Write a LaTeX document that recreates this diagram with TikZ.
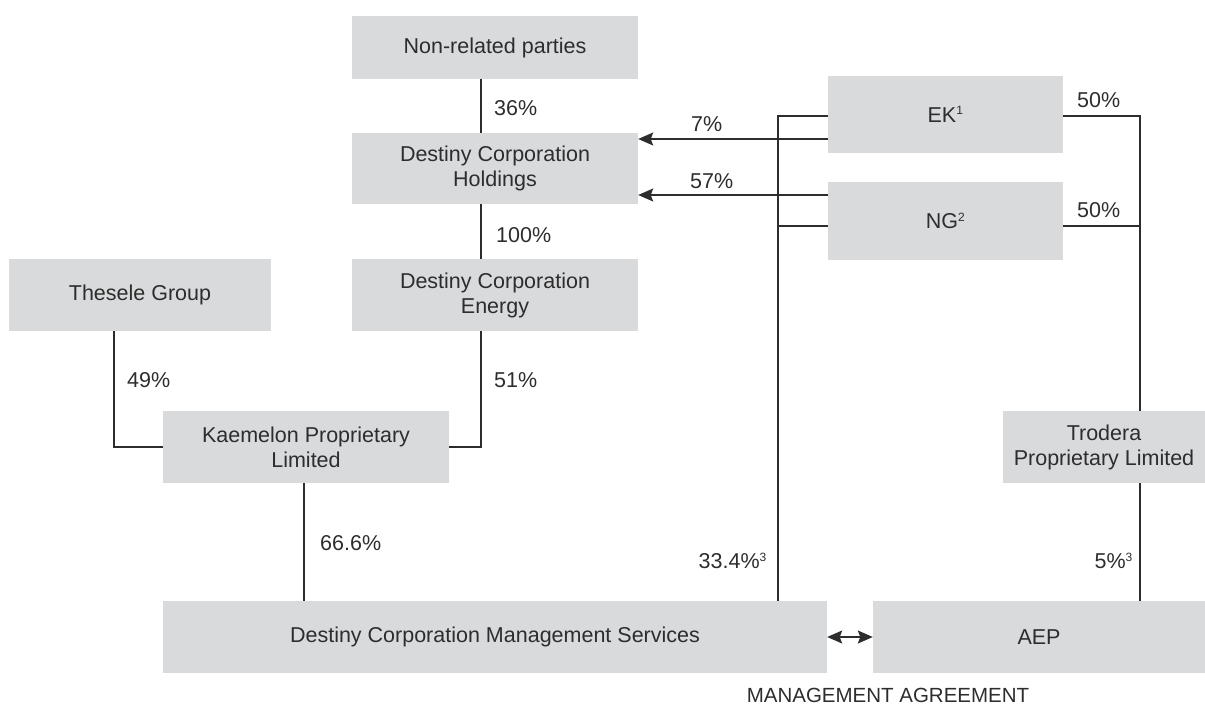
\documentclass[tikz,border=0pt]{standalone}
\usepackage{fontspec}
\setmainfont{Liberation Sans}
\usetikzlibrary{arrows.meta,backgrounds}
\definecolor{boxfill}{RGB}{217,218,220}
\definecolor{txt}{RGB}{45,45,45}
\definecolor{ln}{RGB}{45,45,45}
\tikzset{
  box/.style={rectangle, fill=boxfill, inner sep=0pt, align=center, text=txt,
              font=\fontsize{21.5}{25}\selectfont},
  pct/.style={inner sep=0pt, text=txt, font=\fontsize{21.5}{25}\selectfont},
  conn/.style={draw=ln, line width=1.5pt},
  tip/.style={Stealth[length=15pt,width=13pt,inset=2.5pt]},
  arr/.style={conn, -{Stealth[length=15pt,width=13pt,inset=2.5pt]}},
  darr/.style={conn, {Stealth[length=15pt,width=13pt,inset=2.5pt]}-{Stealth[length=15pt,width=13pt,inset=2.5pt]}}
}
\begin{document}
\begin{tikzpicture}[x=1pt,y=-1pt]
\useasboundingbox (0,0) rectangle (1205,704);
% boxes
\node[box, minimum width=286pt, minimum height=63pt] (np) at (495,47.5) {Non-related parties};
\node[box, minimum width=286pt, minimum height=71pt] (dch) at (495,168.5) {Destiny Corporation\\Holdings};
\node[box, minimum width=286pt, minimum height=72pt] (dce) at (495,295) {Destiny Corporation\\Energy};
\node[box, minimum width=262pt, minimum height=72pt] (ts) at (140,295) {Thesele Group};
\node[box, minimum width=286pt, minimum height=72pt] (kp) at (306,447) {Kaemelon Proprietary\\Limited};
\node[box, minimum width=235pt, minimum height=77pt] (ek) at (945.5,114.5) {EK\textsuperscript{\fontsize{12}{12}\selectfont 1}};
\node[box, minimum width=235pt, minimum height=78pt] (ng) at (945.5,221) {NG\textsuperscript{\fontsize{12}{12}\selectfont 2}};
\node[box, minimum width=202pt, minimum height=72pt] (tr) at (1104,447) {Trodera\\Proprietary Limited};
\node[box, minimum width=664pt, minimum height=72pt] (dcms) at (495,637) {Destiny Corporation Management Services};
\node[box, minimum width=332pt, minimum height=72pt] (aep) at (1039,637) {AEP};
\coordinate (lt) at (778,116);
\coordinate (rt) at (1140,116);
% connectors
\begin{scope}[on background layer]
\draw[conn] ([xshift=-14pt]np.south) -- ([xshift=-14pt]dch.north);
\draw[conn] ([xshift=-14pt]dch.south) -- ([xshift=-14pt]dce.north);
\draw[conn] ([xshift=-26pt]ts.south) |- (kp.west);
\draw[conn] ([xshift=-14pt]dce.south) |- (kp.east);
\draw[conn] ([xshift=-2pt]kp.south) -- ([xshift=-2pt]kp.south |- dcms.north);
\draw[conn] ([yshift=-1.5pt]ek.west) -- (lt) -- (lt |- dcms.north);
\draw[conn] ([yshift=-5pt]ng.west) -- ([yshift=-5pt]ng.west -| lt);
\draw[conn] ([yshift=-1.5pt]ek.east) -- (rt) -- (rt |- aep.north);
\draw[conn] ([yshift=-5pt]ng.east) -- ([yshift=-5pt]ng.east -| rt);
\end{scope}
\draw[arr] ([yshift=-24.5pt]ek.west) -- ([yshift=-24.5pt]ek.west -| dch.east);
\draw[arr] ([yshift=26pt]ng.west) -- ([yshift=26pt]ng.west -| dch.east);
\draw[darr] (dcms.east) -- (aep.west);
% labels
\node[pct, anchor=west] (l36) at (494,108) {36\%};
\node[pct, anchor=west] (l100) at (496,235) {100\%};
\node[pct, anchor=west] (l49) at (127,380) {49\%};
\node[pct, anchor=west] (l51) at (494,380) {51\%};
\node[pct, anchor=west] (l666) at (320,543) {66.6\%};
\node[pct, anchor=west] (l7) at (691,124) {7\%};
\node[pct, anchor=west] (l57) at (690,181.5) {57\%};
\node[pct, anchor=west] (l50a) at (1077,100) {50\%};
\node[pct, anchor=west] (l50b) at (1077,210) {50\%};
\node[pct, anchor=east] (l334) at (767,561) {33.4\%\textsuperscript{\fontsize{12}{12}\selectfont 3}};
\node[pct, anchor=east] (l5) at (1133,561) {5\%\textsuperscript{\fontsize{12}{12}\selectfont 3}};
\node[pct, anchor=base, font=\fontsize{20.5}{24}\selectfont] (ma) at (888,702) {MANAGEMENT AGREEMENT};
\end{tikzpicture}
\end{document}
